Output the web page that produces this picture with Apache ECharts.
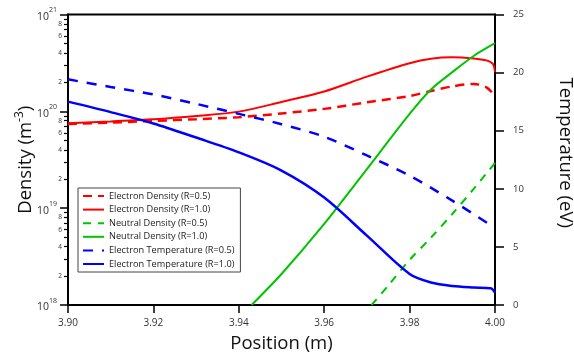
<!DOCTYPE html>
<html>
<head>
<meta charset="utf-8">
<script src="https://cdn.jsdelivr.net/npm/echarts@6/dist/echarts.min.js"></script>
<style>
  html, body { margin: 0; padding: 0; background: #fff; }
  #chart { width: 574px; height: 360px; }
</style>
</head>
<body>
<div id="chart"></div>
<script>
// electron density (m^-3)
const neHalfX = [3.90, 3.91, 3.92, 3.93, 3.94, 3.95, 3.96, 3.97, 3.98, 3.985, 3.99, 3.995, 3.998, 4.00];
const neHalfY = [7.41e19, 7.64e19, 7.96e19, 8.28e19, 8.69e19, 9.51e19, 1.06e20, 1.24e20, 1.44e20, 1.62e20, 1.81e20, 1.92e20, 1.77e20, 1.44e20];
const neFullX = [3.90, 3.91, 3.92, 3.93, 3.94, 3.95, 3.96, 3.97, 3.98, 3.985, 3.99, 3.995, 3.998, 3.9995, 4.00];
const neFullY = [7.54e19, 7.87e19, 8.28e19, 8.96e19, 9.93e19, 1.25e20, 1.60e20, 2.28e20, 3.14e20, 3.50e20, 3.62e20, 3.52e20, 3.36e20, 3.09e20, 2.55e20];

// neutral density (m^-3)
const n0HalfX = [3.9711, 3.975, 3.98, 3.985, 3.99, 3.995, 4.00];
const n0HalfY = [1.0e18, 1.59e18, 2.92e18, 4.96e18, 8.71e18, 1.58e19, 2.93e19];
const n0FullX = [3.943, 3.95, 3.96, 3.97, 3.98, 3.985, 3.99, 3.995, 4.00];
const n0FullY = [1.0e18, 2.09e18, 6.87e18, 2.53e19, 9.4e19, 1.68e20, 2.54e20, 3.73e20, 5.05e20];

// electron temperature (eV)
const teHalfX = [3.90, 3.91, 3.92, 3.93, 3.94, 3.95, 3.96, 3.97, 3.98, 3.99, 4.00];
const teHalfY = [19.42, 18.76, 18.12, 17.31, 16.45, 15.56, 14.48, 12.87, 11.13, 8.98, 6.63];
const teFullX = [3.90, 3.91, 3.92, 3.93, 3.94, 3.95, 3.96, 3.97, 3.98, 3.985, 3.99, 3.995, 3.999, 4.00];
const teFullY = [17.5, 16.6, 15.62, 14.41, 13.14, 11.57, 9.25, 5.97, 2.67, 1.94, 1.64, 1.51, 1.44, 1.06];

// axis ticks
const decades = [18, 19, 20];
const minorMantissa = [2, 3, 4, 5, 6, 7, 8, 9];
const labeledMantissa = [2, 4, 6, 8];

const pair = (xs, ys) => xs.map((x, i) => [x, ys[i]]);
const logList = (ms) => {
  const out = [];
  decades.forEach(d => ms.forEach(m => out.push(d + Math.log10(m))));
  return out;
};

const FONT = "Open Sans";
const chart = echarts.init(document.getElementById("chart"));

const lineSeries = (name, xs, ys, axis, color, width, dash) => ({
  name, type: "line", yAxisIndex: axis,
  data: pair(xs, ys), showSymbol: false, symbol: "none",
  smooth: 0.3,
  itemStyle: { color },
  lineStyle: { color, width, type: dash || "solid" },
});

const option = {
  animation: false,
  textStyle: { fontFamily: FONT },
  grid: {
    left: 68, right: 79, top: 14.5, bottom: 55,
    outerBoundsMode: "none", containLabel: false,
    show: true, borderColor: "#000", borderWidth: 2,
  },
  legend: {
    left: 78, top: 188,
    orient: "vertical",
    itemWidth: 21, itemHeight: 10, itemGap: 3.6,
    padding: [3, 6, 3, 4],
    borderColor: "#444", borderWidth: 1,
    backgroundColor: "#fff",
    itemStyle: { opacity: 0 },
    textStyle: { fontSize: 9.2, color: "#222", fontFamily: FONT, lineHeight: 10 },
    data: [
      "Electron Density (R=0.5)", "Electron Density (R=1.0)",
      "Neutral Density (R=0.5)", "Neutral Density (R=1.0)",
      "Electron Temperature (R=0.5)", "Electron Temperature (R=1.0)",
    ],
  },
  xAxis: {
    type: "value", min: 3.9, max: 4.0, interval: 0.02,
    name: "Position (m)", nameLocation: "middle", nameGap: 29, nameMoveOverlap: false,
    nameTextStyle: { fontSize: 18.5, color: "#111", fontFamily: FONT },
    axisLine: { lineStyle: { color: "#000", width: 2 } },
    axisTick: { inside: false, length: 8, lineStyle: { color: "#000", width: 1.5 } },
    axisLabel: { fontSize: 10, color: "#333", margin: 13, formatter: v => v.toFixed(2) },
    splitLine: { show: false },
  },
  yAxis: [
    {
      type: "log", logBase: 10, min: 1e18, max: 1e21, position: "left",
      name: "Density (m{s|-3})", nameLocation: "middle", nameGap: 30, nameRotate: 90,
      nameMoveOverlap: false,
      nameTextStyle: {
        fontSize: 18.5, color: "#111", fontFamily: FONT,
        rich: {
          s: { fontSize: 12, color: "#111", fontFamily: FONT, verticalAlign: "top", lineHeight: 24 },
        },
      },
      axisLine: { show: true, lineStyle: { color: "#000", width: 2 } },
      axisTick: { length: 8, lineStyle: { color: "#000", width: 1.5 } },
      axisLabel: {
        margin: 11, color: "#333",
        formatter: v => "{b|10}{s|" + Math.round(Math.log10(v)) + "}",
        rich: {
          b: { fontSize: 10.5, color: "#333", fontFamily: FONT, verticalAlign: "bottom", lineHeight: 16 },
          s: { fontSize: 7, color: "#333", fontFamily: FONT, verticalAlign: "top", lineHeight: 16 },
        },
      },
      splitLine: { show: false },
    },
    {
      // minor ticks of the log axis, placed in log10 space
      type: "value", min: 18, max: 21, position: "left",
      axisLine: { show: false },
      axisTick: { show: true, length: 4, customValues: logList(minorMantissa), lineStyle: { color: "#000", width: 1.2 } },
      axisLabel: {
        show: true, fontSize: 6.5, color: "#333", margin: 6,
        customValues: logList(labeledMantissa),
        formatter: v => String(Math.round(Math.pow(10, v - Math.floor(v + 1e-9)))),
      },
      splitLine: { show: false },
    },
    {
      type: "value", min: 0, max: 25, interval: 5, position: "right",
      name: "Temperature (eV)", nameLocation: "middle", nameGap: 61, nameRotate: -90,
      nameMoveOverlap: false,
      nameTextStyle: { fontSize: 18.5, color: "#111", fontFamily: FONT, padding: [0, 14, 0, 0] },
      axisLine: { show: true, lineStyle: { color: "#000", width: 2 } },
      axisTick: { length: 9, lineStyle: { color: "#000", width: 1.5 } },
      axisLabel: { fontSize: 9.5, color: "#333", margin: 18 },
      splitLine: { show: false },
    },
  ],
  series: [
    lineSeries("Electron Density (R=0.5)", neHalfX, neHalfY, 0, "#ff0000", 2.5, [9, 6]),
    lineSeries("Electron Density (R=1.0)", neFullX, neFullY, 0, "#ff0000", 2),
    lineSeries("Neutral Density (R=0.5)", n0HalfX, n0HalfY, 0, "#00c400", 2, [8, 7]),
    lineSeries("Neutral Density (R=1.0)", n0FullX, n0FullY, 0, "#00c400", 2),
    lineSeries("Electron Temperature (R=0.5)", teHalfX, teHalfY, 2, "#0000ff", 2.5, [10, 9]),
    lineSeries("Electron Temperature (R=1.0)", teFullX, teFullY, 2, "#0000ff", 2.5),
  ],
};

chart.setOption(option);
window.addEventListener("resize", () => chart.resize());
</script>
</body>
</html>
